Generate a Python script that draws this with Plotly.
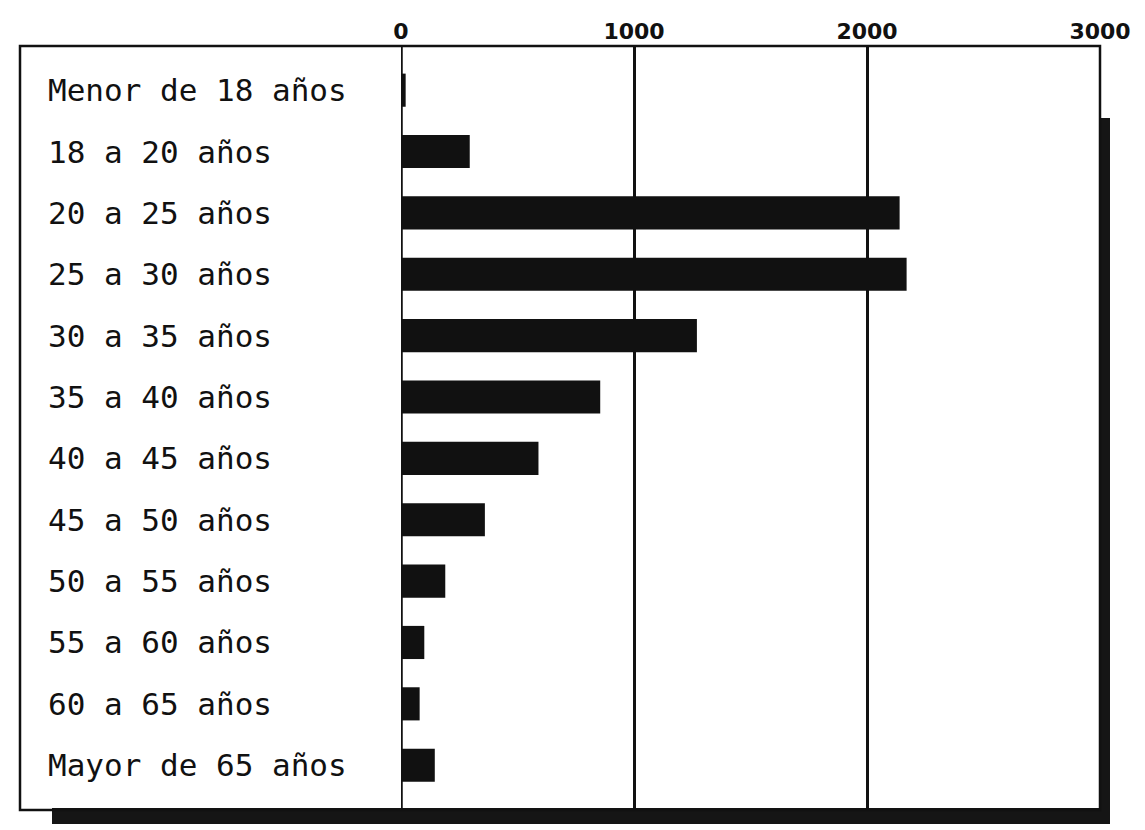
import plotly.graph_objects as go

categories = ["Menor de 18 años", "18 a 20 años", "20 a 25 años", "25 a 30 años",
              "30 a 35 años", "35 a 40 años", "40 a 45 años", "45 a 50 años",
              "50 a 55 años", "55 a 60 años", "60 a 65 años", "Mayor de 65 años"]
values = [20, 295, 2140, 2170, 1270, 855, 590, 360, 190, 100, 80, 145]
tick_vals = [0, 1000, 2000, 3000]
tick_text = ["0", "1000", "2000", "3000"]

W, H = 1145, 830
L, R, T, B = 401, 45, 46, 20
PW, PH = W - L - R, H - T - B

def px(x):
    return (x - L) / PW

def py(y):
    return (H - B - y) / PH

fig = go.Figure()
fig.add_trace(go.Bar(
    y=categories, x=values, orientation="h", width=0.54,
    marker=dict(color="#111111", line=dict(width=0)),
    hoverinfo="x+y",
))

annotations = []
for c in categories:
    annotations.append(dict(
        x=px(46), xref="paper", y=c, yref="y", text=c, showarrow=False,
        xanchor="left", yanchor="middle",
        font=dict(family="DejaVu Sans Mono", size=31, color="#111111"),
    ))

shapes = [
    # shadows
    dict(type="rect", xref="paper", yref="paper", x0=px(1099), x1=px(1110),
         y0=py(822), y1=py(118), fillcolor="#151515", line=dict(width=0), layer="below"),
    dict(type="rect", xref="paper", yref="paper", x0=px(52), x1=px(1110),
         y0=py(824), y1=py(808), fillcolor="#151515", line=dict(width=0), layer="below"),
    # outer box
    dict(type="rect", xref="paper", yref="paper", x0=px(20), x1=1, y0=0, y1=1,
         line=dict(color="#111111", width=2.5), fillcolor="rgba(0,0,0,0)"),
    # zero line
    dict(type="line", xref="x", yref="paper", x0=0, x1=0, y0=0, y1=1,
         line=dict(color="#111111", width=3.5)),
]

fig.update_layout(
    width=W, height=H,
    margin=dict(l=L, r=R, t=T, b=B),
    paper_bgcolor="white", plot_bgcolor="white",
    showlegend=False,
    bargap=0.46,
    annotations=annotations,
    shapes=shapes,
    xaxis=dict(
        range=[0, 3000], side="top", tickvals=tick_vals, ticktext=tick_text,
        showgrid=True, gridcolor="#111111", gridwidth=2.5,
        zeroline=False, showline=False, ticks="", ticklabelstandoff=2,
        tickfont=dict(family="DejaVu Sans", size=22, color="#111111", weight="bold"),
    ),
    yaxis=dict(
        type="category", categoryorder="array", categoryarray=categories,
        range=[11.73, -0.72], showticklabels=False, showgrid=False,
        zeroline=False, showline=False, ticks="",
    ),
)

fig.write_html("out.html", config={"displayModeBar": False},
               post_script="document.body.style.margin='0px';document.body.style.overflow='hidden';")
